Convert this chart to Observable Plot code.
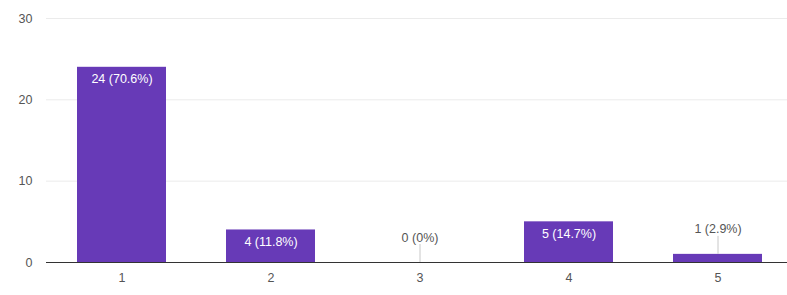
<!DOCTYPE html>
<html>
<head>
<meta charset="utf-8">
<script src="https://cdn.jsdelivr.net/npm/d3@7"></script>
<script src="https://cdn.jsdelivr.net/npm/@observablehq/plot@0.6"></script>
<style>
  html, body { margin: 0; padding: 0; background: #fff; }
  svg { display: block; }
</style>
</head>
<body>
<div id="chart"></div>
<script>
const categories = ["1", "2", "3", "4", "5"];
const counts = [24, 4, 0, 5, 1];
const labels = ["24 (70.6%)", "4 (11.8%)", "0 (0%)", "5 (14.7%)", "1 (2.9%)"];
const yTicks = [0, 10, 20, 30];

const data = categories.map((c, i) => ({cat: c, value: counts[i], label: labels[i], inside: counts[i] >= 3}));
const inside = data.filter(d => d.inside);
const outside = data.filter(d => !d.inside);

const chart = Plot.plot({
  width: 787,
  height: 295,
  marginTop: 18,
  marginBottom: 33,
  marginLeft: 46,
  marginRight: -6,
  style: {fontFamily: "'Liberation Sans', Arial, sans-serif", fontSize: "12px", background: "#fff"},
  x: {domain: categories, paddingInner: 0.4, paddingOuter: 0.2, label: null},
  y: {domain: [0, 30], label: null},
  marks: [
    Plot.gridY(yTicks, {stroke: "#ebebeb", strokeOpacity: 1}),
    Plot.barY(data, {x: "cat", y: "value", fill: "#673ab7"}),
    Plot.ruleX(outside, {x: "cat", y1: "value", y2: "value", insetTop: -18, stroke: "#c8c8c8", strokeWidth: 1}),
    Plot.ruleY([0], {stroke: "#333", strokeWidth: 1.2}),
    Plot.text(inside, {x: "cat", y: "value", text: "label", dy: 12, fill: "#fff", fontSize: 12.5}),
    Plot.text(outside, {x: "cat", y: "value", text: "label", dy: -25, fill: "#555", fontSize: 12.5}),
    Plot.axisY(yTicks, {tickSize: 0, tickPadding: 14, fill: "#555", fontSize: 12.5, label: null}),
    Plot.axisX({tickSize: 0, tickPadding: 11, fill: "#555", fontSize: 12.5, label: null})
  ]
});
document.getElementById("chart").appendChild(chart);
</script>
</body>
</html>
